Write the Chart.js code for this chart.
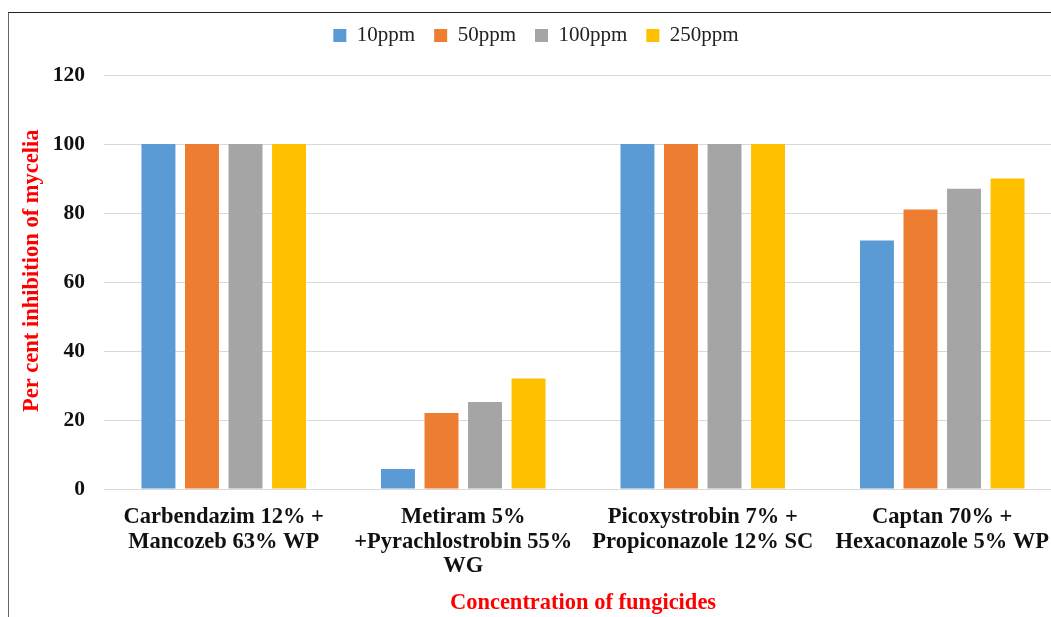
<!DOCTYPE html>
<html>
<head>
<meta charset="utf-8">
<script src="https://cdn.jsdelivr.net/npm/chart.js@4.4.1/dist/chart.umd.min.js"></script>
<style>
  html, body { margin: 0; padding: 0; background: #fff; overflow: hidden; }
  #wrap { position: absolute; left: 0; top: 0; width: 1062px; height: 617px; }
  #frame { position: absolute; left: 8px; top: 12px; width: 1100px; height: 700px;
           border-top: 1px solid #222; border-left: 1px solid #666; pointer-events: none; }
</style>
</head>
<body>
<div id="wrap"><canvas id="chart"></canvas></div>
<div id="frame"></div>
<script>
const categories = [
  ['Carbendazim 12% +', 'Mancozeb 63% WP'],
  ['Metiram 5%', '+Pyrachlostrobin 55%', 'WG'],
  ['Picoxystrobin 7% +', 'Propiconazole 12% SC'],
  ['Captan 70% +', 'Hexaconazole 5% WP']
];
const seriesNames = ['10ppm', '50ppm', '100ppm', '250ppm'];
const ppm10 = [100, 5.8, 100, 72];
const ppm50 = [100, 22, 100, 81];
const ppm100 = [100, 25.2, 100, 87];
const ppm250 = [100, 32, 100, 90];
const colors = ['#5B9BD5', '#ED7D31', '#A5A5A5', '#FFC000'];
const yTicks = [0, 20, 40, 60, 80, 100, 120];

const serif = '"Liberation Serif", "Times New Roman", serif';

// stretch the legend box so the plot starts lower, like the original
const legendHeight = {
  id: 'legendHeight',
  beforeInit(chart) {
    const lg = chart.legend;
    if (!lg) return;
    const fit = lg.fit;
    lg.fit = function () {
      fit.call(lg);
      lg.height = 69;
    };
  }
};

const ctx = document.getElementById('chart').getContext('2d');
new Chart(ctx, {
  type: 'bar',
  data: {
    labels: categories,
    datasets: [ppm10, ppm50, ppm100, ppm250].map((d, i) => ({
      label: seriesNames[i],
      data: d,
      backgroundColor: colors[i],
      barPercentage: 0.78,
      categoryPercentage: 0.727
    }))
  },
  options: {
    responsive: true,
    maintainAspectRatio: false,
    animation: false,
    layout: { padding: { left: 10, top: 6, right: 0, bottom: 0 } },
    plugins: {
      legend: {
        position: 'top',
        labels: {
          boxWidth: 13,
          boxHeight: 13,
          padding: 19,
          color: '#222',
          font: { family: serif, size: 21 }
        }
      },
      tooltip: { enabled: false }
    },
    scales: {
      x: {
        grid: { display: false },
        border: { color: '#d9d9d9' },
        ticks: {
          color: '#111',
          padding: 8,
          maxRotation: 0,
          autoSkip: false,
          font: { family: serif, size: 22.5, weight: 'bold', lineHeight: 1.09 }
        },
        title: {
          display: true,
          text: 'Concentration of fungicides',
          color: '#ff0000',
          padding: { top: 0, bottom: 0 },
          font: { family: serif, size: 22.5, weight: 'bold' }
        },
        afterFit: s => { s.height = 617 - 489; }
      },
      y: {
        min: 0,
        max: 120,
        afterBuildTicks: s => { s.ticks = yTicks.map(v => ({ value: v })); },
        grid: { color: '#d9d9d9', drawTicks: false },
        border: { display: false },
        ticks: {
          color: '#111',
          padding: 19,
          font: { family: serif, size: 21.5, weight: 'bold' }
        },
        title: {
          display: true,
          text: '    Per cent inhibition of mycelia',
          color: '#ff0000',
          padding: { top: 9, bottom: 0 },
          font: { family: serif, size: 22.5, weight: 'bold' }
        },
        afterFit: s => { s.width = 104 - 10; }
      }
    }
  },
  plugins: [legendHeight]
});
</script>
</body>
</html>
